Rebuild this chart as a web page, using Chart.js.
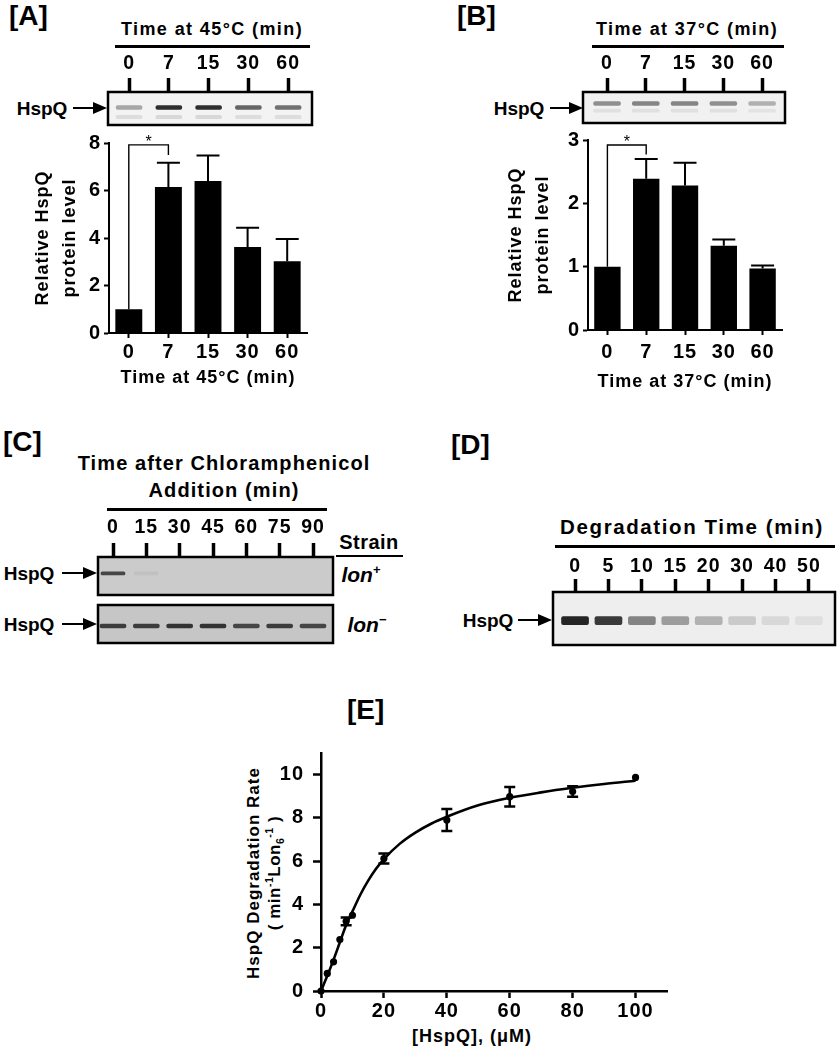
<!DOCTYPE html>
<html><head><meta charset="utf-8">
<script src="https://cdn.jsdelivr.net/npm/chart.js@4/dist/chart.umd.min.js"></script>
<style>
body{margin:0;background:#fff;width:838px;height:1050px;position:relative;overflow:hidden;font-family:'Liberation Sans',Arial,sans-serif;font-weight:bold;color:#000}
canvas{position:absolute}
.t{position:absolute;white-space:nowrap;line-height:1}
.c{transform:translate(-50%,-50%)}
.hl{position:absolute;background:#000}
.sh{position:absolute;background:#000;height:2.5px}
.hd{position:absolute;width:0;height:0;border-top:6px solid transparent;border-bottom:6px solid transparent;border-left:14px solid #000}
sup,sub{font-size:62%;line-height:0}
</style></head><body>
<!-- panel letters -->
<div class="t" style="left:9px;top:2px;font-size:28px">[A]</div>
<div class="t" style="left:457px;top:2px;font-size:28px">[B]</div>
<div class="t" style="left:3px;top:428px;font-size:28px">[C]</div>
<div class="t" style="left:451px;top:431px;font-size:28px">[D]</div>
<div class="t" style="left:347px;top:696px;font-size:28px">[E]</div>
<!-- A header -->
<div class="t c" style="left:212px;top:29px;font-size:18px;letter-spacing:1.4px">Time at 45°C (min)</div>
<div class="hl" style="left:115px;top:45px;width:195px;height:2.5px"></div>
<div class="t c" style="left:42px;top:108px;font-size:19px">HspQ</div>
<!-- B header -->
<div class="t c" style="left:687px;top:29px;font-size:18px;letter-spacing:1.4px">Time at 37°C (min)</div>
<div class="hl" style="left:592px;top:45px;width:192px;height:2.5px"></div>
<div class="t c" style="left:519px;top:108px;font-size:19px">HspQ</div>
<!-- C header -->
<div class="t c" style="left:224px;top:463px;font-size:20px;letter-spacing:1.1px">Time after Chloramphenicol</div>
<div class="t c" style="left:224px;top:490px;font-size:20px;letter-spacing:1.1px">Addition (min)</div>
<div class="hl" style="left:107px;top:508px;width:220px;height:2.5px"></div>
<div class="t c" style="left:369px;top:542px;font-size:20px;letter-spacing:0.5px">Strain</div>
<div class="hl" style="left:336px;top:555px;width:67px;height:2px"></div>
<div class="t c" style="left:361px;top:574px;font-size:21px"><i>lon</i><sup>+</sup></div>
<div class="t c" style="left:367px;top:624px;font-size:21px"><i>lon</i><sup>&minus;</sup></div>
<div class="t c" style="left:29px;top:573px;font-size:19px">HspQ</div>
<div class="t c" style="left:29px;top:624px;font-size:19px">HspQ</div>
<!-- D header -->
<div class="t c" style="left:692px;top:527px;font-size:20.5px;letter-spacing:1.6px">Degradation Time (min)</div>
<div class="hl" style="left:555px;top:545px;width:280px;height:2.5px"></div>
<div class="t c" style="left:488px;top:620px;font-size:19px">HspQ</div>
<!-- E titles -->
<div class="t c" style="left:253px;top:873px;font-size:17px;letter-spacing:1px;transform:translate(-50%,-50%) rotate(-90deg)">HspQ Degradation Rate</div>
<div class="t c" style="left:274px;top:873px;font-size:17px;letter-spacing:0.5px;transform:translate(-50%,-50%) rotate(-90deg)">( min<sup>-1</sup>Lon<sub>6</sub><sup>-1</sup> )</div>
<div class="t c" style="left:472px;top:1036px;font-size:18px;letter-spacing:1px">[HspQ], (μM)</div>

<canvas id="gA" width="240" height="90" style="left:90px;top:40px;width:240px;height:90px"></canvas>
<canvas id="gB" width="250" height="90" style="left:560px;top:40px;width:250px;height:90px"></canvas>
<canvas id="cA" width="320" height="275" style="left:0px;top:128px;width:320px;height:275px"></canvas>
<canvas id="cB" width="400" height="280" style="left:410px;top:125px;width:400px;height:280px"></canvas>
<canvas id="gC1" width="270" height="95" style="left:80px;top:505px;width:270px;height:95px"></canvas>
<canvas id="gC2" width="270" height="55" style="left:80px;top:595px;width:270px;height:55px"></canvas>
<canvas id="gD" width="298" height="110" style="left:540px;top:540px;width:298px;height:110px"></canvas>
<canvas id="cE" width="430" height="360" style="left:260px;top:690px;width:430px;height:360px"></canvas>

<script>
// ---------------- data ----------------
const A_times = ['0','7','15','30','60'];
const A_level = [1.0, 6.15, 6.4, 3.62, 3.02];
const A_sem   = [0, 1.02, 1.07, 0.81, 0.94];
const B_times = ['0','7','15','30','60'];
const B_level = [1.0, 2.39, 2.28, 1.33, 0.97];
const B_sem   = [0, 0.31, 0.36, 0.10, 0.05];

const gelA_band  = [0.35, 0.9, 0.9, 0.65, 0.6];
const gelA_lower = [0.10, 0.12, 0.12, 0.10, 0.10];
const gelB_band  = [0.45, 0.5, 0.5, 0.45, 0.3];
const gelB_lower = [0.08, 0.08, 0.08, 0.08, 0.06];
const C_times = ['0','15','30','45','60','75','90'];
const gelC_lonPlus  = [0.75, 0.05, 0, 0, 0, 0, 0];
const gelC_lonMinus = [0.8, 0.8, 0.85, 0.85, 0.75, 0.8, 0.75];
const D_times = ['0','5','10','15','20','30','40','50'];
const gelD_band = [0.95, 0.85, 0.5, 0.38, 0.28, 0.17, 0.1, 0.07];

const E_conc = [0, 2, 4, 6, 8, 10, 20, 40, 60, 80, 100];
const E_rate = [0, 0.81, 1.35, 2.38, 3.22, 3.5, 6.12, 7.9, 8.98, 9.22, 9.87];
const E_err  = [0, 0, 0, 0, 0.18, 0, 0.23, 0.51, 0.45, 0.24, 0];
const E_fitX = [0, 2, 4, 6, 8, 10, 12.5, 15, 17.5, 20, 25, 30, 35, 40, 50, 60, 70, 80, 90, 100];
const E_fitY = [0, 0.7, 1.45, 2.25, 3.05, 3.68, 4.45, 5.1, 5.65, 6.1, 6.8, 7.32, 7.73, 8.05, 8.58, 8.93, 9.18, 9.39, 9.57, 9.72];
const E_xTicks = [0, 20, 40, 60, 80, 100];
const E_yTicks = [0, 2, 4, 6, 8, 10];

// ---------------- setup ----------------
Chart.defaults.font.family = "'Liberation Sans', Arial, sans-serif";
Chart.defaults.font.weight = 'bold';
Chart.defaults.color = '#000';

const lsPlugin = {id:'ls',
  beforeLayout(c){ c.ctx.letterSpacing = '1px'; },
  beforeDraw(c){ c.ctx.letterSpacing = '1px'; }};

const errPlugin = {id:'errbars', afterDatasetsDraw(chart, args, o){
  if(!o || !o.err) return;
  const ctx = chart.ctx, y = chart.scales.y, meta = chart.getDatasetMeta(0);
  const vals = chart.data.datasets[0].data;
  ctx.save(); ctx.strokeStyle = '#000'; ctx.lineWidth = 2;
  meta.data.forEach((bar,i)=>{
    const e = o.err[i]; if(!e) return;
    const t1 = y.getPixelForValue(vals[i]), t2 = y.getPixelForValue(vals[i]+e);
    ctx.beginPath(); ctx.moveTo(bar.x, t1); ctx.lineTo(bar.x, t2);
    ctx.moveTo(bar.x - o.cap/2, t2); ctx.lineTo(bar.x + o.cap/2, t2); ctx.stroke();
  });
  if(o.bracket){
    const b = o.bracket;
    const x0 = meta.data[b.from].x, x1 = meta.data[b.to].x;
    const yb = y.getPixelForValue(vals[b.from]), yt = y.getPixelForValue(b.top), ye = y.getPixelForValue(b.end);
    ctx.lineWidth = 1.4;
    ctx.beginPath(); ctx.moveTo(x0, yb); ctx.lineTo(x0, yt); ctx.lineTo(x1, yt); ctx.lineTo(x1, ye); ctx.stroke();
    ctx.letterSpacing = '0px';
    ctx.font = "16px 'Liberation Sans', Arial"; ctx.fillStyle = '#000';
    ctx.textAlign = 'center'; ctx.textBaseline = 'alphabetic';
    ctx.fillText('*', (x0+x1)/2, yt + 2);
  }
  ctx.restore();
}};

const gelPlugin = {id:'gelbox',
  beforeDatasetsDraw(c, a, o){
    if(!o || !o.bg) return;
    const {left, top, right, bottom} = c.chartArea, ctx = c.ctx;
    ctx.save(); ctx.fillStyle = o.bg; ctx.fillRect(left, top, right-left, bottom-top); ctx.restore();
    if(o.blur) ctx.filter = 'blur(' + o.blur + 'px)';
  },
  afterDatasetsDraw(c, a, o){
    if(!o || !o.bg) return;
    const {left, top, right, bottom} = c.chartArea, ctx = c.ctx;
    ctx.filter = 'none';
    ctx.save(); ctx.strokeStyle = '#000'; ctx.lineWidth = 2.5;
    ctx.strokeRect(left, top, right-left, bottom-top); ctx.restore();
  }};

const yErrPlugin = {id:'yerr', afterDatasetsDraw(chart, args, o){
  if(!o || !o.err) return;
  const ctx = chart.ctx, xs = chart.scales.x, ys = chart.scales.y;
  ctx.save(); ctx.strokeStyle = '#000'; ctx.lineWidth = 2.5;
  o.x.forEach((xv,i)=>{
    const e = o.err[i]; if(!e) return;
    const px = xs.getPixelForValue(xv), p1 = ys.getPixelForValue(o.y[i]-e), p2 = ys.getPixelForValue(o.y[i]+e);
    ctx.beginPath(); ctx.moveTo(px, p1); ctx.lineTo(px, p2);
    ctx.moveTo(px-o.cap/2, p1); ctx.lineTo(px+o.cap/2, p1);
    ctx.moveTo(px-o.cap/2, p2); ctx.lineTo(px+o.cap/2, p2);
    ctx.stroke();
  });
  ctx.restore();
}};

Chart.register(lsPlugin, errPlugin, gelPlugin, yErrPlugin);

const base = {responsive:false, animation:false, devicePixelRatio:1, events:[]};

// ---------------- bar charts ----------------
function barChart(id, labels, vals, errs, o){
  return new Chart(document.getElementById(id), {
    type:'bar',
    data:{labels, datasets:[{data:vals, backgroundColor:'#000', borderWidth:0, categoryPercentage:1, barPercentage:0.68}]},
    options:Object.assign({}, base, {
      layout:{padding:o.pad},
      plugins:{legend:{display:false}, tooltip:{enabled:false},
        errbars:{err:errs, cap:23, bracket:o.bracket}},
      scales:{
        x:{grid:{display:true, drawOnChartArea:false, offset:false, tickLength:5, tickWidth:2, tickColor:'#000'},
           border:{color:'#000', width:2},
           ticks:{color:'#000', font:{size:20, weight:'bold'}, padding:o.xpad},
           title:{display:true, text:o.xtitle, color:'#000', font:{size:18, weight:'bold'}, padding:0},
           afterFit:s=>{ s.height = o.xh; }},
        y:{min:0, max:o.ymax,
           ticks:{stepSize:o.step, color:'#000', font:{size:20, weight:'bold'}, padding:3},
           grid:{drawOnChartArea:false, tickLength:5, tickWidth:2, tickColor:'#000'},
           border:{color:'#000', width:2},
           title:{display:true, text:['Relative HspQ','protein level'], color:'#000', font:{size:18, weight:'bold', lineHeight:1.5}, padding:0},
           afterFit:s=>{ s.width = o.yw; }}
      }
    })
  });
}

barChart('cA', A_times, A_level, A_sem, {
  pad:{left:29.5, top:12, right:13, bottom:14.2}, xh:55.8, yw:79.5, xpad:2.5,
  xtitle:'Time at 45°C (min)', ymax:8, step:2, bracket:{from:0, to:1, top:7.92, end:7.5}});
barChart('cB', B_times, B_level, B_sem, {
  pad:{left:92.5, top:12, right:28, bottom:12.2}, xh:62.8, yw:85.5, xpad:5,
  xtitle:'Time at 37°C (min)', ymax:3, step:1, bracket:{from:0, to:1, top:2.92, end:2.77}});

// ---------------- gels ----------------
function gelChart(id, o){
  return new Chart(document.getElementById(id), {
    type:'bar',
    data:{datasets:o.rows.map(r=>({
      data:r.vals.map((v,i)=>({x:i, y:[r.pos-r.half, r.pos+r.half]})),
      backgroundColor:r.vals.map(v=>'rgba(25,25,25,'+v+')'),
      barThickness:r.w, grouped:false, borderWidth:0, borderRadius:2, borderSkipped:false
    }))},
    options:Object.assign({}, base, {
      layout:{padding:o.pad},
      plugins:{legend:{display:false}, tooltip:{enabled:false}, gelbox:{bg:o.bg, blur:0.6}},
      scales:{
        x:{type:'linear', position:'top', display:o.showAxis, min:o.min, max:o.max, offset:false,
           afterBuildTicks:s=>{ s.ticks = o.labels.map((_,i)=>({value:i})); },
           ticks:{callback:v=>o.labels[v], color:'#000', font:{size:19.5, weight:'bold'}, padding:o.lp, autoSkip:false, maxRotation:0},
           grid:{display:true, drawOnChartArea:false, offset:false, tickLength:o.tl, tickWidth:3.5, tickColor:'#000'},
           border:{display:false},
           afterFit:s=>{ if(o.showAxis) s.height = 42; }},
        y:{display:false, min:0, max:1}
      }
    })
  });
}

gelChart('gA', {labels:A_times, showAxis:true, min:-0.53, max:4.6, tl:14, lp:3, bg:'#f3f3f3',
  pad:{left:18, top:10, right:18, bottom:5},
  rows:[{vals:gelA_band, pos:0.53, half:0.06, w:26}, {vals:gelA_lower, pos:0.24, half:0.05, w:26}]});
gelChart('gB', {labels:B_times, showAxis:true, min:-0.62, max:4.59, tl:14, lp:3, bg:'#f1f1f1',
  pad:{left:23, top:10, right:25, bottom:7},
  rows:[{vals:gelB_band, pos:0.63, half:0.06, w:27}, {vals:gelB_lower, pos:0.4, half:0.05, w:27}]});
gelChart('gC1', {labels:C_times, showAxis:true, min:-0.45, max:6.6, tl:14, lp:3.6, bg:'#cbcbcb',
  pad:{left:18, top:10, right:17, bottom:5},
  rows:[{vals:gelC_lonPlus, pos:0.57, half:0.04, w:24}]});
gelChart('gC2', {labels:C_times, showAxis:false, min:-0.45, max:6.6, tl:14, lp:3.6, bg:'#c6c6c6',
  pad:{left:18, top:10, right:17, bottom:7},
  rows:[{vals:gelC_lonMinus, pos:0.45, half:0.05, w:26}]});
gelChart('gD', {labels:D_times, showAxis:true, min:-0.66, max:7.78, tl:13, lp:1, bg:'#eeeeee',
  pad:{left:13, top:10, right:3, bottom:5},
  rows:[{vals:gelD_band, pos:0.46, half:0.075, w:27}]});

// ---------------- panel E ----------------
new Chart(document.getElementById('cE'), {
  type:'scatter',
  data:{datasets:[
    {type:'line', data:E_fitX.map((x,i)=>({x, y:E_fitY[i]})), borderColor:'#000', borderWidth:2.6,
     pointRadius:0, cubicInterpolationMode:'monotone', fill:false, clip:false},
    {data:E_conc.map((x,i)=>({x, y:E_rate[i]})), backgroundColor:'#000', borderWidth:0, pointRadius:3.6, clip:false}
  ]},
  options:Object.assign({}, base, {
    layout:{padding:{left:16, top:63, right:23, bottom:27}},
    plugins:{legend:{display:false}, tooltip:{enabled:false}, yerr:{x:E_conc, y:E_rate, err:E_err, cap:11}},
    scales:{
      x:{type:'linear', min:0, max:110,
         afterBuildTicks:s=>{ s.ticks = E_xTicks.map(v=>({value:v})); },
         ticks:{color:'#000', font:{size:20, weight:'bold'}, padding:1},
         grid:{drawOnChartArea:false, tickLength:7, tickWidth:2.5, tickColor:'#000'},
         border:{color:'#000', width:2.5},
         afterFit:s=>{ s.height = 32; }},
      y:{type:'linear', min:0, max:11,
         afterBuildTicks:s=>{ s.ticks = E_yTicks.map(v=>({value:v})); },
         ticks:{color:'#000', font:{size:20, weight:'bold'}, padding:9},
         grid:{drawOnChartArea:false, tickLength:8, tickWidth:2.5, tickColor:'#000'},
         border:{color:'#000', width:2.5},
         afterFit:s=>{ s.width = 45; }}
    }
  })
});

// ---------------- arrows (HspQ ->) ----------------
function arrow(x1, x2, y){
  const s = document.createElement('div'); s.className = 'sh';
  s.style.left = x1+'px'; s.style.top = (y-1.25)+'px'; s.style.width = (x2-x1-13)+'px';
  const h = document.createElement('div'); h.className = 'hd';
  h.style.left = (x2-14)+'px'; h.style.top = (y-6)+'px';
  document.body.appendChild(s); document.body.appendChild(h);
}
arrow(73, 107, 108);
arrow(550, 583, 108);
arrow(62, 97, 573);
arrow(62, 97, 624);
arrow(518, 552, 620);
</script>
</body></html>
